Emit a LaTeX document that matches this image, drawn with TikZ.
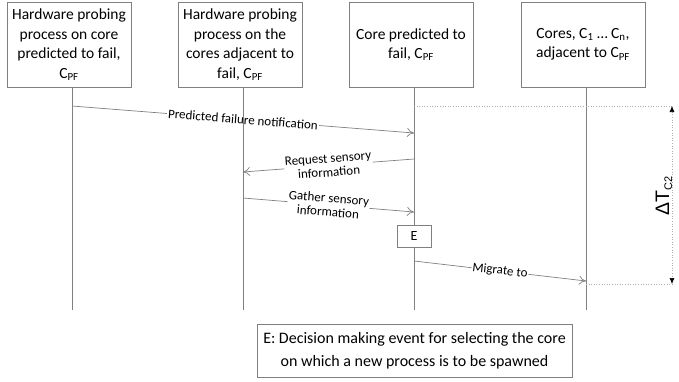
\documentclass[tikz,border=0pt]{standalone}
\usepackage{fontspec}
\setmainfont{Carlito}
\newfontfamily\arialfont{Liberation Sans}
\usetikzlibrary{arrows.meta}
\definecolor{lg}{HTML}{808080}
\definecolor{dg}{HTML}{B0B0B0}
\begin{document}
\begin{tikzpicture}[x=1pt,y=-1pt,
  actor/.style={draw=lg,line width=0.8pt,minimum width=124pt,minimum height=85pt,inner sep=2pt,align=center,font=\fontsize{15.5}{19.5}\selectfont},
  life/.style={draw=lg,line width=0.7pt},
  msg/.style={draw=lg,line width=0.7pt,-{To[length=7pt,width=9pt]}},
  lbl/.style={midway,sloped,fill=white,inner sep=1pt,align=center,font=\fontsize{13}{14}\selectfont},
  guide/.style={draw=dg,dotted,line width=0.6pt}]
\useasboundingbox (0,0) rectangle (679,381);
\node[actor] (A) at (69,44.5) {Hardware probing\\process on core\\predicted to fail,\\C\textsubscript{PF}};
\node[actor] (B) at (240,44.5) {Hardware probing\\process on the\\cores adjacent to\\fail, C\textsubscript{PF}};
\node[actor] (C) at (411,44.5) {Core predicted to\\fail, C\textsubscript{PF}};
\node[actor] (D) at (583,44.5) {Cores, C\textsubscript{1} \dots\ C\textsubscript{n},\\adjacent to C\textsubscript{PF}};
% lifeline coordinates
\coordinate (Aend) at (72,310);
\coordinate (Bend) at (243,310);
\coordinate (Cend) at (414,310);
\coordinate (Dend) at (586,310);
\coordinate (m1s) at (72,106);
\coordinate (m1e) at (414,133);
\coordinate (m2s) at (414,159);
\coordinate (m2e) at (243,172);
\coordinate (m3s) at (243,198);
\coordinate (m3e) at (414,212);
\coordinate (m4s) at (414,261);
\coordinate (m4e) at (586,281);
\coordinate (g1s) at (414,106);
\coordinate (g1) at (672,106);
\coordinate (g2) at (672,284);
\coordinate (g2s) at (586,284);
% messages
\draw[msg] (m1s) -- (m1e) node[lbl] {Predicted failure notification};
\draw[msg] (m2s) -- (m2e) node[lbl] {Request sensory\\information};
\draw[msg] (m3s) -- (m3e) node[lbl] {Gather sensory\\information};
\draw[msg] (m4s) -- (m4e) node[lbl] {Migrate to};
% lifelines
\draw[life] (A.south -| Aend) -- (Aend);
\draw[life] (B.south -| Bend) -- (Bend);
\draw[life] (C.south -| Cend) -- (Cend);
\draw[life] (D.south -| Dend) -- (Dend);
% event box
\node[draw=lg,fill=white,line width=0.7pt,minimum width=34pt,minimum height=22pt,inner sep=1pt,font=\fontsize{14}{16}\selectfont] (E) at (414,236) {E};
% guides
\draw[guide] (g1s) -- (g1);
\draw[guide] (g2s) -- (g2);
\draw[guide,{Latex[length=6pt,width=5pt,color=black]}-{Latex[length=6pt,width=5pt,color=black]}] (g1) -- (g2);
\node[rotate=90,inner sep=0pt,font=\arialfont\fontsize{19.5}{21}\selectfont] (dt) at (664,195.5) {Δ{}T\textsubscript{\fontsize{11}{12}\selectfont C2}};
% legend
\node[draw=lg,line width=0.7pt,minimum width=315pt,minimum height=53pt,align=center,font=\fontsize{16}{23}\selectfont] (L) at (414.5,351) {E: Decision making event for selecting the core\\on which a new process is to be spawned};
\end{tikzpicture}
\end{document}
